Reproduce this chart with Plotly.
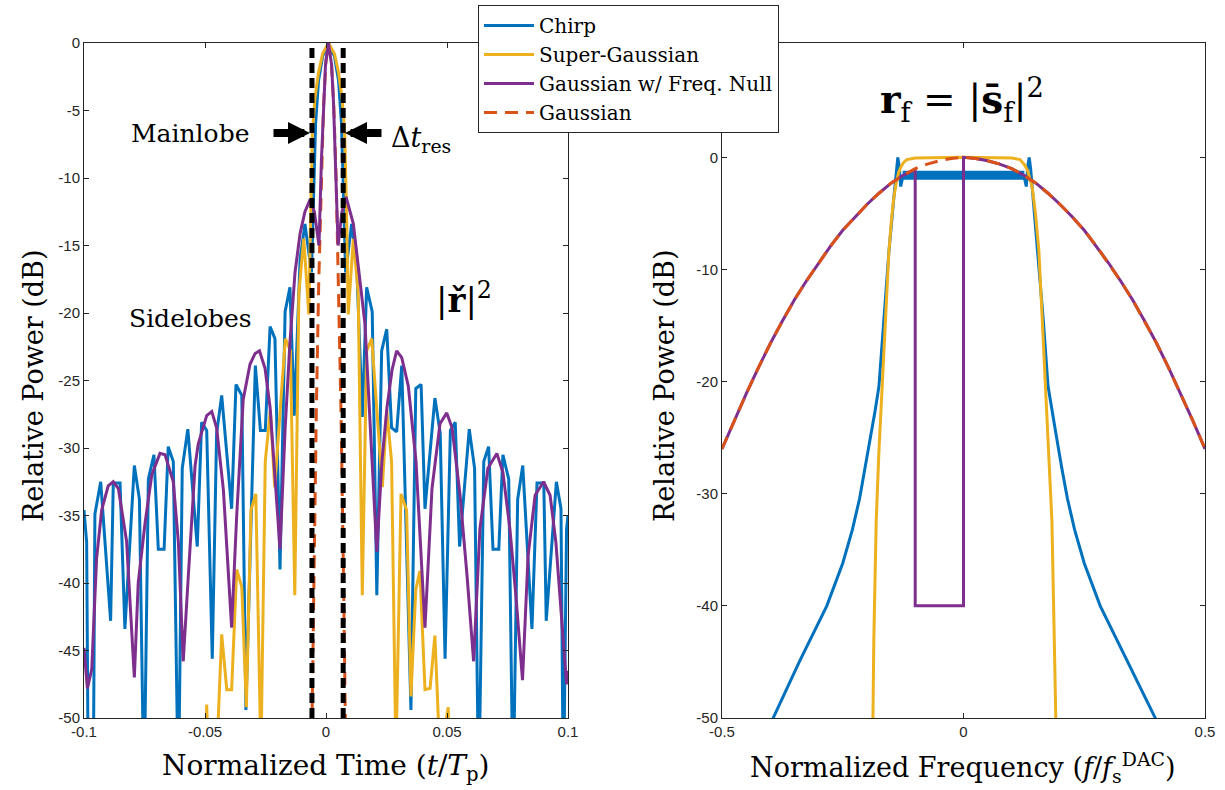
import plotly.graph_objects as go

# ---------------- time domain |r|^2 (dB) ----------------
chirp_t = [-0.1000, -0.0989, -0.0982, -0.0972, -0.0962, -0.0955, -0.0931, -0.0890, -0.0879, -0.0851,
           -0.0831, -0.0792, -0.0771, -0.0752, -0.0734, -0.0711, -0.0693, -0.0669, -0.0652, -0.0631,
           -0.0610, -0.0594, -0.0571, -0.0532, -0.0514, -0.0493, -0.0470, -0.0452, -0.0431, -0.0390,
           -0.0372, -0.0348, -0.0331, -0.0292, -0.0271, -0.0251, -0.0231, -0.0211, -0.0190, -0.0169,
           -0.0149, -0.0131, -0.0107, -0.0087, -0.0060, -0.0052, -0.0043, -0.0031, -0.0014, 0.0010,
           0.0035, 0.0052, 0.0064, 0.0072, 0.0081, 0.0106, 0.0127, 0.0150, 0.0168, 0.0191,
           0.0210, 0.0230, 0.0251, 0.0271, 0.0292, 0.0313, 0.0351, 0.0371, 0.0393, 0.0409,
           0.0450, 0.0472, 0.0492, 0.0514, 0.0534, 0.0552, 0.0592, 0.0614, 0.0631, 0.0652,
           0.0672, 0.0690, 0.0714, 0.0731, 0.0755, 0.0773, 0.0792, 0.0813, 0.0851, 0.0872,
           0.0900, 0.0910, 0.0952, 0.0971, 0.0981, 0.0994, 0.1000]
chirp_db = [-34.6, -37.0, -56.0, -60.0, -56.0, -34.9, -32.5, -42.8, -32.6, -32.6,
            -43.4, -31.3, -33.8, -56.0, -32.3, -30.5, -37.5, -37.5, -29.9, -31.0,
            -56.0, -31.5, -28.6, -37.3, -28.1, -28.7, -45.6, -28.9, -26.1, -34.5,
            -25.3, -26.1, -49.4, -23.9, -28.7, -28.7, -21.0, -21.9, -39.0, -19.9,
            -18.1, -27.6, -16.0, -13.4, -17.0, -11.0, -6.0, -2.8, -1.0, 0.0,
            -1.0, -2.8, -6.0, -11.0, -17.0, -13.4, -16.5, -27.7, -18.1, -19.9,
            -40.9, -22.8, -21.2, -28.5, -28.8, -23.9, -49.4, -25.6, -25.3, -34.5,
            -26.3, -28.9, -45.6, -28.7, -28.1, -37.3, -28.6, -31.5, -56.0, -31.0,
            -29.9, -37.5, -37.5, -30.5, -32.3, -56.0, -33.8, -31.3, -43.4, -32.6,
            -32.6, -42.8, -32.5, -34.5, -56.0, -36.0, -35.0]

supg_t = [-0.0504, -0.0493, -0.0486, -0.0452, -0.0431, -0.0410, -0.0390, -0.0369, -0.0348, -0.0329,
          -0.0310, -0.0290, -0.0269, -0.0251, -0.0230, -0.0212, -0.0168, -0.0147, -0.0129, -0.0112,
          -0.0092, -0.0071, -0.0067, -0.0062, -0.0056, -0.0045, -0.0031, -0.0014, 0.0010, 0.0035,
          0.0052, 0.0066, 0.0077, 0.0083, 0.0088, 0.0092, 0.0113, 0.0133, 0.0150, 0.0168,
          0.0189, 0.0233, 0.0251, 0.0271, 0.0289, 0.0310, 0.0333, 0.0351, 0.0371, 0.0388,
          0.0409, 0.0430, 0.0450, 0.0471, 0.0505, 0.0517]
supg_db = [-60.0, -49.0, -53.0, -53.0, -43.8, -47.9, -47.9, -39.0, -40.3, -49.2,
           -34.6, -33.4, -53.0, -31.0, -27.2, -32.9, -21.9, -22.8, -40.9, -18.5,
           -14.5, -20.1, -16.0, -11.0, -6.5, -4.0, -2.2, -0.8, 0.0, -0.8,
           -2.2, -4.0, -6.5, -11.0, -16.0, -20.1, -14.5, -18.5, -40.9, -22.8,
           -21.9, -32.9, -27.2, -31.0, -53.0, -33.4, -34.6, -48.4, -40.5, -39.1,
           -47.9, -47.8, -43.9, -53.0, -49.2, -60.0]

gnull_t = [-0.1000, -0.0986, -0.0968, -0.0948, -0.0927, -0.0900, -0.0879, -0.0858, -0.0824, -0.0792,
           -0.0776, -0.0748, -0.0720, -0.0686, -0.0665, -0.0631, -0.0610, -0.0590, -0.0569, -0.0541,
           -0.0528, -0.0493, -0.0472, -0.0452, -0.0424, -0.0390, -0.0369, -0.0342, -0.0314, -0.0293,
           -0.0275, -0.0252, -0.0231, -0.0211, -0.0190, -0.0169, -0.0149, -0.0128, -0.0107, -0.0087,
           -0.0066, -0.0048, -0.0029, -0.0019, -0.0010, -0.0002, 0.0010, 0.0023, 0.0031, 0.0039,
           0.0050, 0.0066, 0.0083, 0.0113, 0.0133, 0.0161, 0.0189, 0.0210, 0.0231, 0.0252,
           0.0273, 0.0292, 0.0313, 0.0340, 0.0372, 0.0409, 0.0438, 0.0471, 0.0499, 0.0521,
           0.0554, 0.0583, 0.0610, 0.0636, 0.0669, 0.0706, 0.0731, 0.0760, 0.0785, 0.0812,
           0.0835, 0.0864, 0.0899, 0.0926, 0.0950, 0.0971, 0.0994, 0.1000]
gnull_db = [-44.8, -47.8, -46.4, -38.2, -34.6, -32.8, -32.5, -33.0, -36.9, -47.0,
            -40.0, -35.6, -32.0, -30.4, -30.5, -32.5, -37.0, -45.8, -39.5, -31.3,
            -29.7, -27.6, -27.3, -28.5, -33.1, -43.3, -35.0, -26.4, -23.8, -23.0,
            -22.8, -24.1, -27.0, -31.8, -37.5, -28.6, -22.2, -17.0, -14.1, -12.5,
            -11.6, -12.5, -15.0, -8.7, -4.4, -1.6, 0.0, -1.6, -4.4, -8.7,
            -15.0, -12.5, -11.4, -13.4, -16.4, -20.8, -30.5, -37.7, -31.0, -27.0,
            -24.2, -22.8, -23.3, -25.4, -31.0, -43.3, -33.0, -28.2, -27.4, -28.5,
            -33.5, -39.5, -45.8, -36.0, -31.5, -30.4, -31.8, -36.0, -41.0, -47.2,
            -38.0, -33.5, -32.5, -33.5, -37.0, -42.0, -47.5, -46.5]

gauss_t = [-0.0060, -0.0050, -0.0040, -0.0030, -0.0020, -0.0010, 0.0000, 0.0011,
           0.0022, 0.0032, 0.0042, 0.0052, 0.0062, 0.0072, 0.0082]
gauss_db = [-52.9, -39.1, -27.3, -17.7, -10.1, -4.6, -1.3, 0.0,
            -1.3, -4.6, -10.1, -17.7, -27.3, -39.1, -52.9]

res_marks_t = [-0.0058, 0.0071]

# ---------------- frequency domain (dB) ----------------
chirp_f = [-0.42, -0.394, -0.34, -0.283, -0.25, -0.23, -0.215, -0.203, -0.192, -0.183,
           -0.175, -0.165, -0.1546, -0.144, -0.139, -0.136, -0.133, -0.130, -0.127, -0.124,
           0.0,
           0.124, 0.127, 0.130, 0.133, 0.136, 0.139, 0.144, 0.1546, 0.165, 0.175,
           0.183, 0.192, 0.203, 0.215, 0.23, 0.25, 0.283, 0.34, 0.397, 0.42]
chirp_fdb = [-54.0, -50.0, -45.0, -40.0, -36.2, -33.2, -30.4, -27.6, -24.8, -22.6,
             -20.4, -14.4, -8.5, -3.5, -1.0, 0.0, -0.8, -2.6, -2.0, -1.7,
             -1.5,
             -1.7, -2.0, -2.6, -0.8, 0.0, -1.0, -3.5, -8.5, -14.4, -20.4,
             -22.6, -24.8, -27.6, -30.4, -33.2, -36.2, -40.0, -45.0, -50.0, -54.0]
chirp_ripple_f = [-0.126, 0.0, 0.126]
chirp_ripple_db = [-1.6, -1.5, -1.6]

supg_f = [-0.20, -0.1875, -0.1857, -0.1807, -0.1753, -0.1684, -0.1615, -0.1546, -0.149, -0.144,
          -0.139, -0.134, -0.129, -0.124, -0.117, -0.10, 0.0, 0.10, 0.117, 0.1215,
          0.127, 0.132, 0.137, 0.142, 0.149, 0.156, 0.163, 0.170, 0.177, 0.183,
          0.188, 0.1905, 0.20]
supg_fdb = [-70.0, -50.0, -43.1, -32.4, -26.4, -20.4, -14.4, -8.5, -5.5, -3.5,
            -2.2, -1.3, -0.8, -0.45, -0.2, -0.05, 0.0, -0.05, -0.2, -0.4,
            -0.7, -1.1, -1.8, -2.6, -5.0, -8.3, -14.4, -20.4, -26.4, -32.4,
            -43.1, -50.0, -70.0]

gauss_f = [-0.5, -0.475, -0.45, -0.425, -0.4, -0.375, -0.35, -0.325, -0.3, -0.275,
           -0.25, -0.225, -0.2, -0.175, -0.15, -0.125, -0.1, -0.075, -0.05, -0.025,
           0.0, 0.025, 0.05, 0.075, 0.1, 0.125, 0.15, 0.175, 0.2, 0.225,
           0.25, 0.275, 0.3, 0.325, 0.35, 0.375, 0.4, 0.425, 0.45, 0.475, 0.5]
gauss_fdb = [-26.0, -23.5, -21.1, -18.8, -16.6, -14.6, -12.7, -11.0, -9.4, -7.9,
             -6.5, -5.3, -4.2, -3.2, -2.3, -1.6, -1.0, -0.6, -0.3, -0.1,
             0.0, -0.1, -0.3, -0.6, -1.0, -1.6, -2.3, -3.2, -4.2, -5.3,
             -6.5, -7.9, -9.4, -11.0, -12.7, -14.6, -16.6, -18.8, -21.1, -23.5, -26.0]

gnull_f = [-0.5, -0.475, -0.45, -0.425, -0.4, -0.375, -0.35, -0.325, -0.3, -0.275,
           -0.25, -0.225, -0.2, -0.175, -0.15, -0.125, -0.1, -0.1, 0.0, 0.0,
           0.025, 0.05, 0.075, 0.1, 0.125, 0.15, 0.175, 0.2, 0.225,
           0.25, 0.275, 0.3, 0.325, 0.35, 0.375, 0.4, 0.425, 0.45, 0.475, 0.5]
gnull_fdb = [-26.0, -23.5, -21.1, -18.8, -16.6, -14.6, -12.7, -11.0, -9.4, -7.9,
             -6.5, -5.3, -4.2, -3.2, -2.3, -1.6, -1.1, -40.0, -40.0, 0.0,
             -0.1, -0.3, -0.6, -1.0, -1.6, -2.3, -3.2, -4.2, -5.3,
             -6.5, -7.9, -9.4, -11.0, -12.7, -14.6, -16.6, -18.8, -21.1, -23.5, -26.0]

# ---------------- ticks ----------------
t_ticks = [-0.1, -0.05, 0, 0.05, 0.1]
t_ticktext = ["-0.1", "-0.05", "0", "0.05", "0.1"]
p_ticks = [0, -5, -10, -15, -20, -25, -30, -35, -40, -45, -50]
p_ticktext = ["0", "-5", "-10", "-15", "-20", "-25", "-30", "-35", "-40", "-45", "-50"]
f_ticks = [-0.5, 0, 0.5]
f_ticktext = ["-0.5", "0", "0.5"]
pf_ticks = [0, -10, -20, -30, -40, -50]
pf_ticktext = ["0", "-10", "-20", "-30", "-40", "-50"]

BLUE = "#0072BD"
YELLOW = "#EDB120"
PURPLE = "#7E2F8E"
ORANGE = "#D95319"
AX = "#262626"
W, H = 1225, 790
# plot area in figure pixels
L, R, T, B = 84, 1205, 43, 718
PW, PH = R - L, B - T

def px(xp):
    return (xp - L) / PW

def py(yp):
    return (B - yp) / PH

fig = go.Figure()

# left panel (Gaussian drawn first, underneath)
fig.add_trace(go.Scatter(x=gauss_t, y=gauss_db, mode="lines", name="Gaussian", legendrank=4,
                         line=dict(color=ORANGE, width=3, dash="13px,8px"), xaxis="x", yaxis="y"))
fig.add_trace(go.Scatter(x=chirp_t, y=chirp_db, mode="lines", name="Chirp", legendrank=1,
                         line=dict(color=BLUE, width=3), xaxis="x", yaxis="y"))
fig.add_trace(go.Scatter(x=supg_t, y=supg_db, mode="lines", name="Super-Gaussian", legendrank=2,
                         line=dict(color=YELLOW, width=3), xaxis="x", yaxis="y"))
fig.add_trace(go.Scatter(x=gnull_t, y=gnull_db, mode="lines", name="Gaussian w/ Freq. Null",
                         legendrank=3, line=dict(color=PURPLE, width=3), xaxis="x", yaxis="y"))
for tm in res_marks_t:
    fig.add_trace(go.Scatter(x=[tm, tm], y=[-50, 0], mode="lines", showlegend=False,
                             line=dict(color="black", width=5, dash="10px,5px"),
                             xaxis="x", yaxis="y", hoverinfo="skip"))

# right panel
fig.add_trace(go.Scatter(x=chirp_f, y=chirp_fdb, mode="lines", showlegend=False,
                         line=dict(color=BLUE, width=3), xaxis="x2", yaxis="y2"))
fig.add_trace(go.Scatter(x=chirp_ripple_f, y=chirp_ripple_db, mode="lines", showlegend=False,
                         line=dict(color=BLUE, width=9), xaxis="x2", yaxis="y2"))
fig.add_trace(go.Scatter(x=supg_f, y=supg_fdb, mode="lines", showlegend=False,
                         line=dict(color=YELLOW, width=3), xaxis="x2", yaxis="y2"))
fig.add_trace(go.Scatter(x=gnull_f, y=gnull_fdb, mode="lines", showlegend=False,
                         line=dict(color=PURPLE, width=3), xaxis="x2", yaxis="y2"))
fig.add_trace(go.Scatter(x=gauss_f, y=gauss_fdb, mode="lines", showlegend=False,
                         line=dict(color=ORANGE, width=3, dash="13px,8px"), xaxis="x2", yaxis="y2"))

tickfont = dict(family="Liberation Sans, Arial", size=15, color=AX)
common = dict(showline=True, linecolor=AX, linewidth=1, mirror="ticks", ticks="inside",
              ticklen=5, tickcolor=AX, showgrid=False, zeroline=False, tickfont=tickfont,
              automargin=False)

fig.update_layout(
    width=W, height=H,
    margin=dict(l=L, r=W - R, t=T, b=H - B, autoexpand=False),
    paper_bgcolor="white", plot_bgcolor="white",
    xaxis=dict(domain=[0, px(568)], range=[-0.1, 0.1], tickvals=t_ticks,
               ticktext=t_ticktext, anchor="y", **common),
    yaxis=dict(domain=[0, 1], range=[-50, 0], tickvals=p_ticks, ticktext=p_ticktext,
               anchor="x", **common),
    xaxis2=dict(domain=[px(722), 1], range=[-0.5, 0.5], tickvals=f_ticks,
                ticktext=f_ticktext, anchor="y2", **common),
    yaxis2=dict(domain=[0, 1], range=[-50, 10.2], tickvals=pf_ticks, ticktext=pf_ticktext,
                anchor="x2", **common),
    legend=dict(x=px(478), y=py(5), xanchor="left", yanchor="top",
                bgcolor="white", bordercolor=AX, borderwidth=1, itemwidth=50,
                font=dict(family="DejaVu Serif", size=20, color="black"),
                tracegroupgap=0),
    showlegend=True,
)

serif = "DejaVu Serif"
ann = []

def txt(x, y, s, size, angle=0, family=serif):
    ann.append(dict(x=px(x), y=py(y), xref="paper", yref="paper", text=s,
                    showarrow=False, textangle=angle, xanchor="center", yanchor="middle",
                    font=dict(family=family, size=size, color="black")))

txt(326, 767, "Normalized Time (<i>t</i>/<i>T</i><sub>p</sub>)", 28)
txt(963, 767, "Normalized Frequency (<i>f</i>/<i>f</i><sub>s</sub><sup>DAC</sup>)", 27)
txt(33, 386, "Relative Power (dB)", 27, angle=-90)
txt(664, 386, "Relative Power (dB)", 27, angle=-90)
txt(190, 133, "Mainlobe", 25)
txt(190, 318, "Sidelobes", 25)
txt(421, 140, "Δ<i>t</i><sub>res</sub>", 27)
txt(464, 298, "|<b>ř</b>|<sup>2</sup>", 34)
txt(962, 100, "<b>r</b><sub>f</sub> = |<b>s̄</b><sub>f</sub>|<sup>2</sup>", 39)

for tip, off in [(310, -38), (345, 38)]:
    ann.append(dict(x=px(tip), y=py(133), xref="paper", yref="paper", text="",
                    showarrow=True, ax=off, ay=0, arrowhead=2, arrowwidth=8,
                    arrowsize=0.55, arrowcolor="black"))

fig.update_layout(annotations=ann)
fig.write_html("out.html")
